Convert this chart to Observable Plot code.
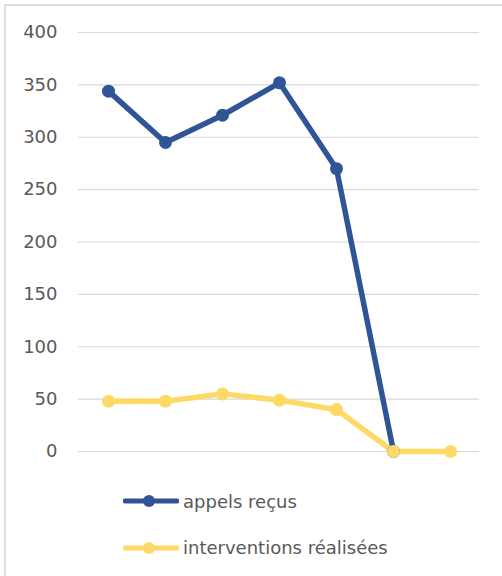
<!DOCTYPE html>
<html>
<head>
<meta charset="utf-8">
<script src="https://cdn.jsdelivr.net/npm/d3@7"></script>
<script src="https://cdn.jsdelivr.net/npm/@observablehq/plot@0.6"></script>
<style>
  html, body { margin: 0; padding: 0; background: #fff; }
  #wrap { position: relative; width: 502px; height: 576px; overflow: hidden; font-family: "DejaVu Sans", sans-serif; }
  #frame { position: absolute; left: 4px; top: 4px; width: 520px; height: 600px; border-top: 2px solid #dcdcdc; border-left: 2px solid #dcdcdc; pointer-events: none; }
  #chart { position: absolute; left: 0; top: 0; }
  #legend { position: absolute; left: 123px; top: 478px; }
  .item { display: flex; align-items: center; height: 46.5px; font-size: 18px; color: #595959; }
  .item svg { margin-right: 4px; }
</style>
</head>
<body>
<div id="wrap">
  <div id="frame"></div>
  <div id="chart"></div>
  <div id="legend"></div>
</div>
<script>
const categories = ["1", "2", "3", "4", "5", "6", "7"];
const appelsRecus = [344, 295, 321, 352, 270, 0];
const interventions = [48, 48, 55, 49, 40, 0, 0];
const yTicks = [0, 50, 100, 150, 200, 250, 300, 350, 400];
const seriesNames = ["appels reçus", "interventions réalisées"];
const seriesColors = ["#2F5597", "#FFD966"];

const rows = [];
appelsRecus.forEach((v, i) => rows.push({cat: categories[i], value: v, series: seriesNames[0]}));
interventions.forEach((v, i) => rows.push({cat: categories[i], value: v, series: seriesNames[1]}));

const plot = Plot.plot({
  width: 502,
  height: 470,
  marginTop: 32,
  marginBottom: 19,
  marginLeft: 78,
  marginRight: 23,
  style: {fontFamily: "'DejaVu Sans', sans-serif", background: "transparent"},
  x: {type: "point", domain: categories, padding: 0.5, axis: null},
  y: {domain: [0, 400], ticks: yTicks},
  color: {domain: seriesNames, range: seriesColors},
  marks: [
    Plot.ruleY(yTicks, {stroke: "#d9d9d9", strokeWidth: 1.2}),
    Plot.axisY({ticks: yTicks, tickSize: 0, tickPadding: 21, fontSize: 18, color: "#595959", label: null}),
    Plot.line(rows, {x: "cat", y: "value", z: "series", stroke: "series", strokeWidth: 5.5, strokeLinejoin: "round", strokeLinecap: "round"}),
    Plot.dot(rows, {x: "cat", y: "value", fill: "series", r: 6.5, stroke: null})
  ]
});
document.getElementById("chart").appendChild(plot);

const legend = document.getElementById("legend");
seriesNames.forEach((name, i) => {
  const item = document.createElement("div");
  item.className = "item";
  item.innerHTML = `<svg width="56" height="14"><line x1="2" y1="7" x2="54" y2="7" stroke="${seriesColors[i]}" stroke-width="5" stroke-linecap="round"/><circle cx="26" cy="7" r="6" fill="${seriesColors[i]}"/></svg><span>${name}</span>`;
  legend.appendChild(item);
});
</script>
</body>
</html>
